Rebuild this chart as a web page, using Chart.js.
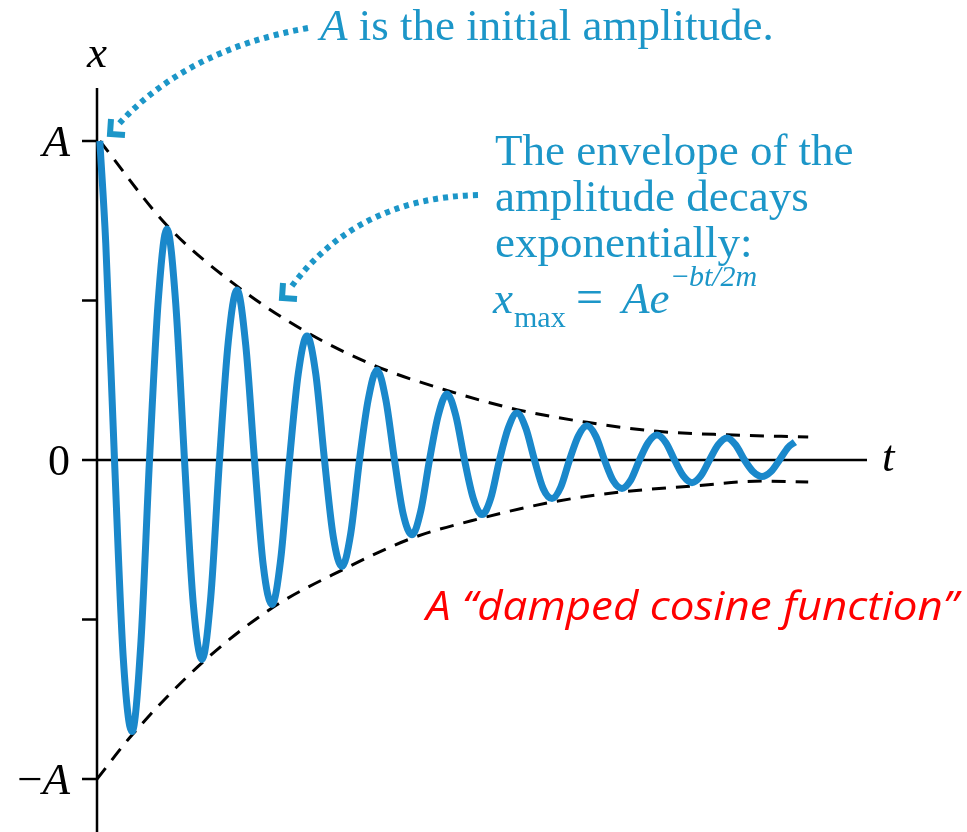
<!DOCTYPE html>
<html>
<head>
<meta charset="utf-8">
<style>
  html, body { margin: 0; padding: 0; background: #fff; }
  #wrap { width: 967px; height: 832px; position: relative; }
</style>
<script src="https://cdn.jsdelivr.net/npm/chart.js@4"></script>
</head>
<body>
<div id="wrap"><canvas id="chartDamped"></canvas></div>
<script>
(function () {
    'use strict';

    // time in periods, displacement in units of A
    var times = [
        0.04, 0.125, 0.25, 0.375, 0.5, 0.625, 0.75, 0.875,
        1, 1.125, 1.25, 1.375, 1.5, 1.625, 1.75, 1.875,
        2, 2.125, 2.25, 2.375, 2.5, 2.625, 2.75, 2.875,
        3, 3.125, 3.25, 3.375, 3.5, 3.625, 3.75, 3.875,
        4, 4.125, 4.25, 4.375, 4.5, 4.625, 4.75, 4.875,
        5, 5.125, 5.25, 5.375, 5.5, 5.625, 5.75, 5.875,
        6, 6.125, 6.25, 6.375, 6.5, 6.625, 6.75, 6.875,
        7, 7.125, 7.25, 7.375, 7.5, 7.625, 7.75, 7.875,
        8, 8.125, 8.25, 8.375, 8.5, 8.625, 8.75, 8.875,
        9, 9.125, 9.25, 9.375, 9.5, 9.625, 9.75, 9.875, 9.97
    ];
    var displacement = [
        1.0, 0.68, 0, -0.62, -0.851, -0.58, 0, 0.50,
        0.724, 0.49, 0, -0.45, -0.625, -0.43, 0, 0.37,
        0.533, 0.36, 0, -0.33, -0.453, -0.31, 0, 0.27,
        0.389, 0.27, 0, -0.24, -0.334, -0.23, 0, 0.19,
        0.282, 0.19, 0, -0.17, -0.234, -0.16, 0, 0.14,
        0.207, 0.14, 0, -0.12, -0.171, -0.12, 0, 0.10,
        0.147, 0.10, 0, -0.09, -0.121, -0.085, 0, 0.075,
        0.107, 0.075, 0, -0.065, -0.089, -0.063, 0, 0.055,
        0.078, 0.055, 0, -0.05, -0.071, -0.05, 0, 0.048,
        0.069, 0.047, 0, -0.037, -0.052, -0.037, 0, 0.04, 0.056
    ];

    var upperTimes = [0.04, 1, 2, 3, 4, 5, 6, 7, 8, 9, 10.16];
    var upperEnvelope = [1.0, 0.735, 0.545, 0.40, 0.293, 0.218, 0.158, 0.118, 0.09, 0.079, 0.072];
    var lowerTimes = [0, 0.5, 1.5, 2.5, 3.5, 4.5, 5.5, 6.5, 7.5, 8.5, 9.5, 10.16];
    var lowerEnvelope = [-1.0, -0.862, -0.636, -0.464, -0.345, -0.245, -0.182, -0.132, -0.1, -0.082, -0.066, -0.069];

    var yTicks = [1, 0.5, 0, -0.5, -1];
    var yTickLabels = ['A', '', '0', '', '−A'];

    var blue = '#1a88cb';
    var note = '#1c96c8';
    var serif = '"Liberation Serif", "DejaVu Serif", serif';

    function pts(xs, ys) {
        return xs.map(function (x, i) { return { x: x, y: ys[i] }; });
    }

    var axesPlugin = {
        id: 'axes',
        beforeDatasetsDraw: function (chart) {
            var ctx = chart.ctx;
            var xs = chart.scales.x, ys = chart.scales.y;
            var x0 = xs.getPixelForValue(0);
            var y0 = ys.getPixelForValue(0);
            ctx.save();
            ctx.strokeStyle = '#000';
            ctx.lineWidth = 2.5;
            ctx.beginPath();
            ctx.moveTo(x0, chart.chartArea.top);
            ctx.lineTo(x0, chart.chartArea.bottom);
            ctx.moveTo(x0, y0);
            ctx.lineTo(xs.getPixelForValue(xs.max), y0);
            yTicks.forEach(function (v) {
                var py = ys.getPixelForValue(v);
                ctx.moveTo(x0 - 15, py);
                ctx.lineTo(x0, py);
            });
            ctx.stroke();

            ctx.fillStyle = '#000';
            ctx.textBaseline = 'alphabetic';
            yTicks.forEach(function (v, i) {
                var lab = yTickLabels[i];
                if (!lab) return;
                var py = ys.getPixelForValue(v) + 15;
                var right = x0 - 27;
                ctx.textAlign = 'right';
                if (lab === '0') {
                    ctx.font = '44px ' + serif;
                    ctx.fillText('0', right, py);
                } else if (lab === 'A') {
                    ctx.font = 'italic 45px ' + serif;
                    ctx.fillText('A', right, py);
                } else {
                    ctx.font = 'italic 45px ' + serif;
                    ctx.fillText('A', right, py);
                    var w = ctx.measureText('A').width;
                    ctx.font = '45px ' + serif;
                    ctx.fillText('−', right - w, py);
                }
            });
            ctx.font = 'italic 45px ' + serif;
            ctx.textAlign = 'center';
            ctx.fillText('x', x0, 67);
            ctx.textAlign = 'left';
            ctx.fillText('t', xs.getPixelForValue(xs.max) + 15, y0 + 11);
            ctx.restore();
        }
    };

    function dottedArrow(ctx, p0, c, p1, corner, arm1, arm2) {
        ctx.save();
        ctx.strokeStyle = note;
        ctx.lineWidth = 6;
        ctx.setLineDash([5, 5]);
        ctx.beginPath();
        ctx.moveTo(p0[0], p0[1]);
        ctx.quadraticCurveTo(c[0], c[1], p1[0], p1[1]);
        ctx.stroke();
        ctx.setLineDash([]);
        ctx.lineWidth = 6;
        ctx.lineJoin = 'miter';
        ctx.lineCap = 'butt';
        ctx.beginPath();
        ctx.moveTo(arm1[0], arm1[1]);
        ctx.lineTo(corner[0], corner[1]);
        ctx.lineTo(arm2[0], arm2[1]);
        ctx.stroke();
        ctx.restore();
    }

    var notesPlugin = {
        id: 'notes',
        afterDraw: function (chart) {
            var ctx = chart.ctx;
            ctx.save();
            ctx.fillStyle = note;
            ctx.textAlign = 'left';
            ctx.textBaseline = 'alphabetic';

            ctx.font = 'italic 45px ' + serif;
            ctx.fillText('A', 320, 40);
            var wA = ctx.measureText('A').width;
            ctx.font = '45px ' + serif;
            ctx.fillText(' is the initial amplitude.', 320 + wA, 40);

            ctx.fillText('The envelope of the', 495, 165);
            ctx.fillText('amplitude decays', 495, 211);
            ctx.fillText('exponentially:', 495, 257);

            ctx.font = 'italic 45px ' + serif;
            ctx.fillText('x', 493, 313);
            ctx.font = '30px ' + serif;
            ctx.fillText('max', 514, 327);
            ctx.font = '48px ' + serif;
            ctx.fillText('=', 576, 313);
            ctx.font = 'italic 45px ' + serif;
            ctx.fillText('Ae', 622, 313);
            ctx.font = '30px ' + serif;
            ctx.fillText('−', 672, 286);
            var wm = ctx.measureText('−').width;
            ctx.font = 'italic 30px ' + serif;
            ctx.fillText('bt/2m', 672 + wm, 286);

            dottedArrow(ctx, [308, 28], [185, 50], [117, 126], [110, 134], [111, 119], [125, 135]);
            dottedArrow(ctx, [478, 195], [355, 198], [289, 290], [282, 298], [283, 283], [297, 299]);

            ctx.fillStyle = '#ff0000';
            ctx.font = 'italic 41px "Open Sans", "Liberation Sans", sans-serif';
            var label = 'A “damped cosine function”';
            var w = ctx.measureText(label).width;
            ctx.translate(426, 620);
            ctx.scale(532 / w, 1);
            ctx.fillText(label, 0, 0);
            ctx.restore();
        }
    };

    new Chart(document.getElementById('chartDamped'), {
        type: 'line',
        data: {
            datasets: [
                {
                    data: pts(times, displacement),
                    borderColor: blue,
                    borderWidth: 7,
                    cubicInterpolationMode: 'monotone',
                    pointRadius: 0,
                    fill: false,
                    clip: false,
                },
                {
                    data: pts(upperTimes, upperEnvelope),
                    borderColor: '#000',
                    borderWidth: 3,
                    borderDash: [14, 10],
                    cubicInterpolationMode: 'monotone',
                    pointRadius: 0,
                    fill: false,
                    clip: false,
                },
                {
                    data: pts(lowerTimes, lowerEnvelope),
                    borderColor: '#000',
                    borderWidth: 3,
                    borderDash: [14, 10],
                    cubicInterpolationMode: 'monotone',
                    pointRadius: 0,
                    fill: false,
                    clip: false,
                },
            ],
        },
        options: {
            responsive: true,
            maintainAspectRatio: false,
            animation: false,
            events: [],
            layout: { padding: { left: 97, right: 100, top: 88, bottom: 0 } },
            plugins: { legend: { display: false }, tooltip: { enabled: false } },
            scales: {
                x: { type: 'linear', min: 0, max: 11, display: false },
                y: { type: 'linear', min: -1.166, max: 1.166, display: false },
            },
        },
        plugins: [axesPlugin, notesPlugin],
    });
})();
</script>
</body>
</html>
